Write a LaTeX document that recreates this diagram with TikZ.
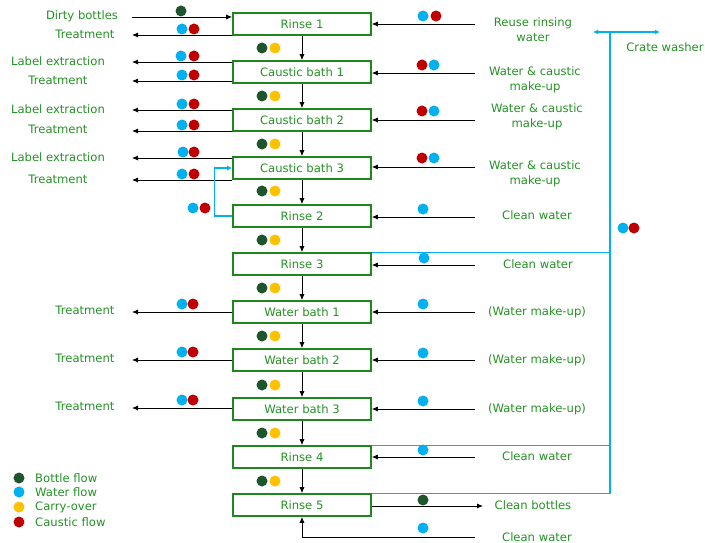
\documentclass[tikz,border=0pt]{standalone}
\usepackage{fontspec}
\setmainfont{DejaVu Sans}
\usetikzlibrary{arrows.meta,positioning}
\definecolor{boxgreen}{RGB}{30,135,30}
\definecolor{txtgreen}{RGB}{35,145,35}
\definecolor{bottlec}{RGB}{30,85,45}
\definecolor{waterc}{RGB}{0,176,240}
\definecolor{carryc}{RGB}{255,192,0}
\definecolor{causticc}{RGB}{192,0,0}

\begin{document}
\begin{tikzpicture}[x=1pt,y=-1pt,
font=\fontsize{11.6}{15}\selectfont,
box/.style ={draw=boxgreen, line width=1.6pt, minimum width=138pt, minimum height=22pt, inner sep=0pt, text=txtgreen},
lbl/.style ={text=txtgreen, align=center, inner sep=0pt},
dot/.style ={circle, minimum size=11pt, inner sep=0pt},
bot/.style ={dot, fill=bottlec},
wat/.style ={dot, fill=waterc},
car/.style ={dot, fill=carryc},
cau/.style ={dot, fill=causticc},
flow/.style ={-{Latex[length=6pt,width=5pt]}, line width=0.8pt},
blu/.style ={waterc, line width=1.2pt},
bluarr/.style ={{Latex[length=5pt,width=5pt]}-{Latex[length=5pt,width=5pt]}}]
\useasboundingbox (0,0) rectangle (705,543);

\node[box] (r1) at (302,24) {Rinse 1};
\node[box] (cb1) at (302,72) {Caustic bath 1};
\node[box] (cb2) at (302,120) {Caustic bath 2};
\node[box] (cb3) at (302,168) {Caustic bath 3};
\node[box] (r2) at (302,216) {Rinse 2};
\node[box] (r3) at (302,264) {Rinse 3};
\node[box] (wb1) at (302,312) {Water bath 1};
\node[box] (wb2) at (302,360) {Water bath 2};
\node[box] (wb3) at (302,409) {Water bath 3};
\node[box] (r4) at (302,457) {Rinse 4};
\node[box] (r5) at (302,505) {Rinse 5};

\draw[flow] (r1) -- (cb1);
\draw[flow] (cb1) -- (cb2);
\draw[flow] (cb2) -- (cb3);
\draw[flow] (cb3) -- (r2);
\draw[flow] (r2) -- (r3);
\draw[flow] (r3) -- (wb1);
\draw[flow] (wb1) -- (wb2);
\draw[flow] (wb2) -- (wb3);
\draw[flow] (wb3) -- (r4);
\draw[flow] (r4) -- (r5);

\node[bot] (g1) at (262,48) {}; \node[car] (y1) at (275,48) {};
\node[bot] (g2) at (262,96) {}; \node[car] (y2) at (275,96) {};
\node[bot] (g3) at (262,144) {}; \node[car] (y3) at (275,144) {};
\node[bot] (g4) at (262,191) {}; \node[car] (y4) at (275,191) {};
\node[bot] (g5) at (262,240) {}; \node[car] (y5) at (275,240) {};
\node[bot] (g6) at (262,288) {}; \node[car] (y6) at (275,288) {};
\node[bot] (g7) at (262,336) {}; \node[car] (y7) at (275,336) {};
\node[bot] (g8) at (262,385) {}; \node[car] (y8) at (275,385) {};
\node[bot] (g9) at (262,433) {}; \node[car] (y9) at (275,433) {};
\node[bot] (g10) at (262,481) {}; \node[car] (y10) at (275,481) {};

\node[lbl] (dirty) at (82,16) {Dirty bottles};
\coordinate (dirtyin) at (132,17);
\draw[flow] (dirtyin) -- (r1.west |- dirtyin);
\node[bot] (g0) at (181,11) {};
\node[lbl] (tr1) at (85,34) {Treatment};
\coordinate (tr1out) at (132,35);
\draw[flow] (r1.west |- tr1out) -- (tr1out);
\node[wat] (lw1) at (182,29) {}; \node[cau] (lc1) at (194,29) {};

\node[lbl] (le1) at (58,61) {Label extraction};
\coordinate (le1out) at (132,62);
\draw[flow] (cb1.west |- le1out) -- (le1out);
\node[wat] (lw2) at (181,56) {}; \node[cau] (lc2) at (194,56) {};
\node[lbl] (tr2) at (58,80) {Treatment};
\coordinate (tr2out) at (132,81);
\draw[flow] (cb1.west |- tr2out) -- (tr2out);
\node[wat] (lw3) at (182,75) {}; \node[cau] (lc3) at (194,75) {};

\node[lbl] (le2) at (58,109) {Label extraction};
\coordinate (le2out) at (132,110);
\draw[flow] (cb2.west |- le2out) -- (le2out);
\node[wat] (lw4) at (182,104) {}; \node[cau] (lc4) at (194,104) {};
\node[lbl] (tr3) at (58,129) {Treatment};
\coordinate (tr3out) at (132,131);
\draw[flow] (cb2.west |- tr3out) -- (tr3out);
\node[wat] (lw5) at (182,125) {}; \node[cau] (lc5) at (194,125) {};

\node[lbl] (le3) at (58,157) {Label extraction};
\coordinate (le3out) at (132,158);
\draw[flow] (cb3.west |- le3out) -- (le3out);
\node[wat] (lw6) at (183,152) {}; \node[cau] (lc6) at (194,152) {};
\node[lbl] (tr4) at (58,179) {Treatment};
\coordinate (tr4out) at (132,180);
\draw[flow] (cb3.west |- tr4out) -- (tr4out);
\node[wat] (lw7) at (182,174) {}; \node[cau] (lc7) at (194,174) {};

\draw[blu,-{Latex[length=5pt,width=5pt]}] (r2.west) -- ++(-18,0) |- (cb3.west);
\node[wat] (lw8) at (193,208) {}; \node[cau] (lc8) at (205,208) {};

\node[lbl] (tr5) at (85,310) {Treatment};
\coordinate (tr5out) at (132,312);
\draw[flow] (wb1.west |- tr5out) -- (tr5out);
\node[wat] (lw9) at (182,304) {}; \node[cau] (lc9) at (193,304) {};
\node[lbl] (tr6) at (85,358) {Treatment};
\coordinate (tr6out) at (132,360);
\draw[flow] (wb2.west |- tr6out) -- (tr6out);
\node[wat] (lw10) at (182,352) {}; \node[cau] (lc10) at (193,352) {};
\node[lbl] (tr7) at (85,406) {Treatment};
\coordinate (tr7out) at (132,408);
\draw[flow] (wb3.west |- tr7out) -- (tr7out);
\node[wat] (lw11) at (182,400) {}; \node[cau] (lc11) at (193,400) {};

\node[lbl] (reuse) at (533,30) {Reuse rinsing\\water};
\coordinate (reusein) at (475,24);
\draw[flow] (reusein) -- (r1.east |- reusein);
\node[wat] (rw1) at (423,16) {}; \node[cau] (rc1) at (436,16) {};

\node[lbl] (mk1) at (535,80) {Water \& caustic\\make-up};
\coordinate (mk1in) at (475,73);
\draw[flow] (mk1in) -- (cb1.east |- mk1in);
\node[cau] (rc2) at (422,65) {}; \node[wat] (rw2) at (434,65) {};
\node[lbl] (mk2) at (537,117) {Water \& caustic\\make-up};
\coordinate (mk2in) at (475,120);
\draw[flow] (mk2in) -- (cb2.east |- mk2in);
\node[cau] (rc3) at (422,111) {}; \node[wat] (rw3) at (434,111) {};
\node[lbl] (mk3) at (535,174) {Water \& caustic\\make-up};
\coordinate (mk3in) at (475,167);
\draw[flow] (mk3in) -- (cb3.east |- mk3in);
\node[cau] (rc4) at (422,158) {}; \node[wat] (rw4) at (434,158) {};

\node[lbl] (cw1) at (537,215) {Clean water};
\coordinate (cw1in) at (475,217);
\draw[flow] (cw1in) -- (r2.east |- cw1in);
\node[wat] (rw5) at (423,209) {};
\node[lbl] (cw2) at (538,264) {Clean water};
\coordinate (cw2in) at (475,265);
\draw[flow] (cw2in) -- (r3.east |- cw2in);
\node[wat] (rw6) at (424,258) {};

\node[lbl] (wm1) at (537,312) {(Water make-up)};
\coordinate (wm1in) at (475,312);
\draw[flow] (wm1in) -- (wb1.east |- wm1in);
\node[wat] (rw7) at (423,304) {};
\node[lbl] (wm2) at (537,360) {(Water make-up)};
\coordinate (wm2in) at (475,360);
\draw[flow] (wm2in) -- (wb2.east |- wm2in);
\node[wat] (rw8) at (423,353) {};
\node[lbl] (wm3) at (537,409) {(Water make-up)};
\coordinate (wm3in) at (475,409);
\draw[flow] (wm3in) -- (wb3.east |- wm3in);
\node[wat] (rw9) at (423,401) {};

\node[lbl] (cw3) at (537,456) {Clean water};
\coordinate (cw3in) at (475,457);
\draw[flow] (cw3in) -- (r4.east |- cw3in);
\node[wat] (rw10) at (423,450) {};

\node[lbl] (clean) at (533,505) {Clean bottles};
\coordinate (cleanout) at (483,506);
\draw[flow] (r5.east |- cleanout) -- (cleanout);
\node[bot] (rg1) at (423,500) {};

\node[lbl] (cw4) at (537,537) {Clean water};
\coordinate (cw4in) at (475,537);
\draw[flow] (cw4in) -| (r5.south);
\node[wat] (rw11) at (423,528) {};

\coordinate (crl) at (593,32);
\coordinate (crr) at (660,32);
\coordinate (crm) at (610,32);
\draw[blu,bluarr] (crl) -- (crr);
\node[lbl] (crate) at (665,47) {Crate washer};
\draw[blu] (crm) |- (r5.north east);
\draw[blu] (r3.north east) -- (r3.north east -| crm);
\draw[blu] (r4.north east) -- (r4.north east -| crm);
\node[wat] (bw1) at (623,228) {}; \node[cau] (bc1) at (634,228) {};

\node[bot] (k1) at (19,478) {};
\node[wat] (k2) at (19,492) {};
\node[car] (k3) at (19,507) {};
\node[cau] (k4) at (19,522) {};
\node[lbl, anchor=west] (k1t) at (35,478) {Bottle flow};
\node[lbl, anchor=west] (k2t) at (35,492) {Water flow};
\node[lbl, anchor=west] (k3t) at (35,507) {Carry-over};
\node[lbl, anchor=west] (k4t) at (35,522) {Caustic flow};
\end{tikzpicture}
\end{document}
